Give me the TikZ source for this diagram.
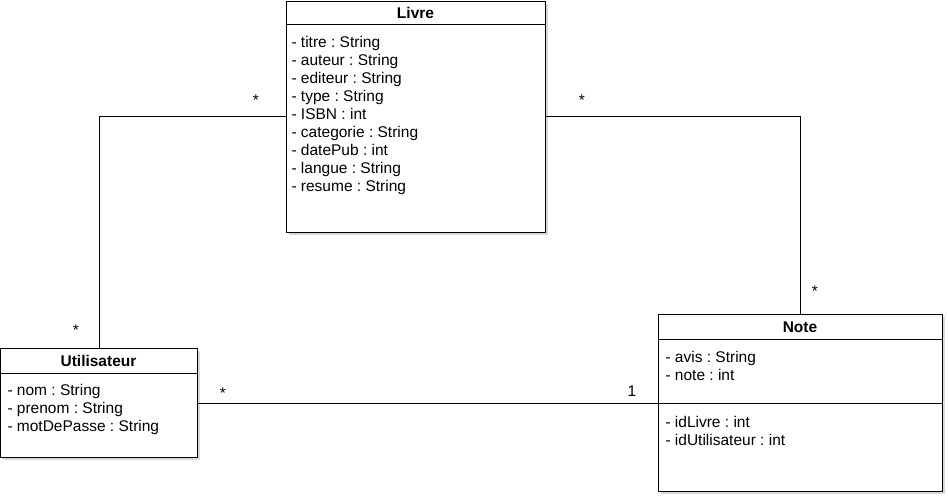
\documentclass[tikz,border=0pt]{standalone}
\usepackage{fontspec}
\setmainfont{Liberation Sans}
\usetikzlibrary{shadows}
\frenchspacing

\tikzset{
  classbox/.style={draw, line width=1pt, fill=white, anchor=north west, inner sep=0pt,
    drop shadow={shadow xshift=2.5pt, shadow yshift=-2.5pt, opacity=0.3, fill=gray}},
  classname/.style={font=\bfseries\fontsize{15.5}{18}\selectfont, inner sep=0pt},
  attrs/.style={anchor=north west, align=left, font=\fontsize{15.5}{18}\selectfont, inner sep=0pt},
  mult/.style={font=\fontsize{15.5}{18}\selectfont, inner sep=0pt},
}

\begin{document}
\begin{tikzpicture}[x=1pt, y=-1pt, line width=1pt]
    \useasboundingbox (0,0) rectangle (948,497);

    % Classes
    \node[classbox, minimum width=259pt, minimum height=231pt] (livre) at (286,1) {};
    \node[classname] (livreT) at (415.5,13) {Livre};
    \draw (286,25) -- (545,25);
    \node[attrs] (livreA) at (291,36) {- titre : String\\- auteur : String\\- editeur : String\\- type : String\\- ISBN : int\\- categorie : String\\- datePub : int\\- langue : String\\- resume : String};

    \node[classbox, minimum width=197pt, minimum height=109pt] (util) at (0,348) {};
    \node[classname] (utilT) at (98.5,361) {Utilisateur};
    \draw (0,373) -- (197,373);
    \node[attrs] (utilA) at (7,384) {- nom : String\\- prenom : String\\- motDePasse : String};

    \node[classbox, minimum width=284pt, minimum height=177pt] (note) at (658,314) {};
    \node[classname] (noteT) at (800,327) {Note};
    \draw (658,339) -- (942,339);
    \node[attrs] (noteA) at (665,350.5) {- avis : String\\- note : int};
    \draw (658,403) -- (942,403);
    \node[attrs] (noteB) at (665,415.5) {- idLivre : int\\- idUtilisateur : int};

    % Associations
    \draw (util.north) |- (livre.west);
    \draw (livre.east) -| (note.north);
    \draw (util.east) -- (util.east -| note.west);

    % Multiplicities
    \node[mult] (m1) at (256,100) {*};
    \node[mult] (m2) at (76,330) {*};
    \node[mult] (m3) at (582,100) {*};
    \node[mult] (m4) at (815,291) {*};
    \node[mult] (m5) at (223,393) {*};
    \node[mult] (m6) at (632,391) {1};
\end{tikzpicture}
\end{document}
